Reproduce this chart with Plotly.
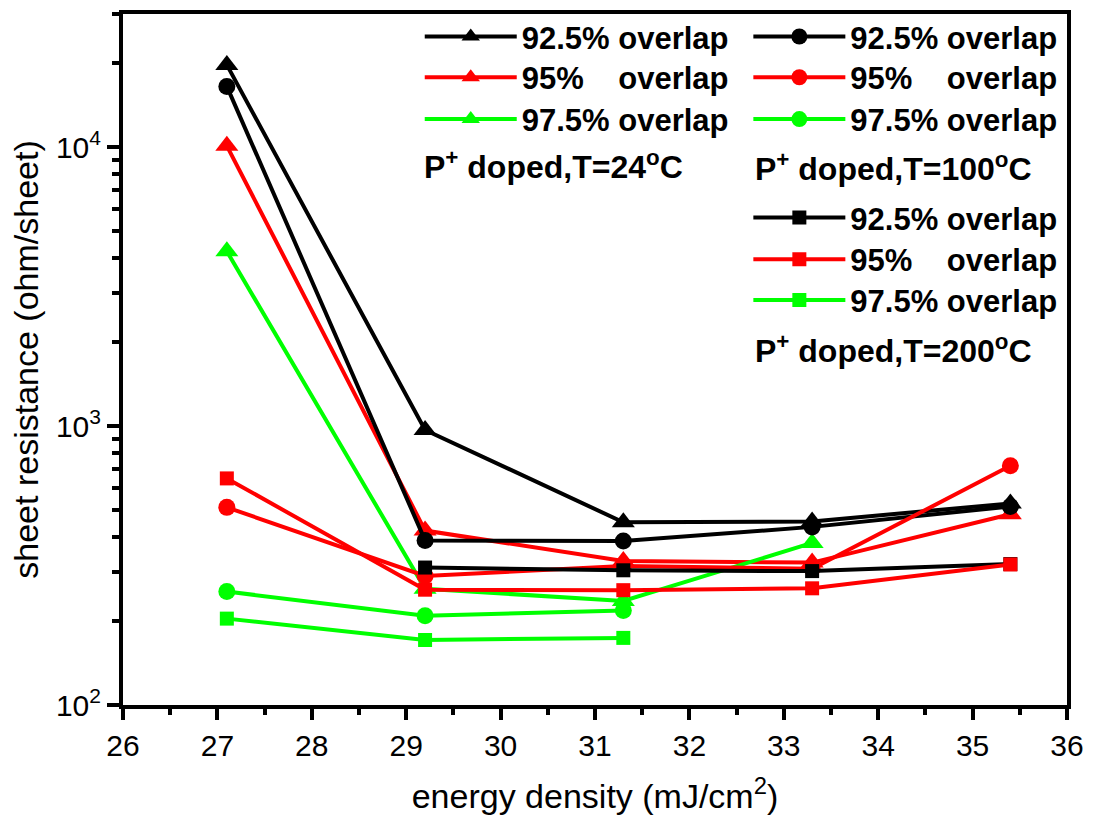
import plotly.graph_objects as go

# ---------------- data ----------------
energy = [27.1, 29.2, 31.3, 33.3, 35.4]

# P+ doped, T=24 C (triangles)
t24_925 = [19700, 968, 452, 455, 528]
t24_95 = [10100, 422, 328, 324, 483]
t24_975 = [4230, 261, 236, 381]

# P+ doped, T=100 C (circles)
t100_925 = [16500, 389, 387, 435, 515]
t100_95 = [511, 290, 315, 308, 720]
t100_975 = [255, 209, 218]

# P+ doped, T=200 C (squares)
t200_925 = [311, 304, 302, 320]          # starts at 29.2
t200_95 = [649, 259, 258, 262, 319]
t200_975 = [204, 171, 174]

labels = ["92.5% overlap", "95%\u00a0\u00a0\u00a0\u00a0overlap", "97.5% overlap"]
group_texts = ["P<sup>+</sup> doped,T=24<sup>o</sup>C",
               "P<sup>+</sup> doped,T=100<sup>o</sup>C",
               "P<sup>+</sup> doped,T=200<sup>o</sup>C"]

BLACK, RED, GREEN = "#000000", "#FF0000", "#00FF00"
FONT = "Arial, Liberation Sans, sans-serif"

# layout geometry (pixels)
W, H = 1094, 823
ML, MR, MT, MB = 123, 23, 10, 118
PW, PH = W - ML - MR, H - MT - MB


def px_x(p):
    return (p - ML) / PW


def px_y(p):
    return 1 - (p - MT) / PH


fig = go.Figure()

# legend placement for each entry (column left px, row centre px)
legend_slots = {
    "legend": (421, 33), "legend2": (421, 74), "legend3": (421, 116),
    "legend4": (751, 33), "legend5": (751, 74), "legend6": (751, 116),
    "legend7": (751, 215), "legend8": (751, 257), "legend9": (751, 298),
}


def add(xs, ys, color, symbol, size, name, legend):
    fig.add_trace(go.Scatter(
        x=xs, y=ys, mode="lines+markers", name=name, legend=legend,
        line=dict(color=color, width=4),
        marker=dict(color=color, symbol=symbol, size=size),
    ))


add(energy, t24_925, BLACK, "triangle-up", 20, labels[0], "legend")
add(energy, t24_95, RED, "triangle-up", 20, labels[1], "legend2")
add(energy[:4], t24_975, GREEN, "triangle-up", 20, labels[2], "legend3")

add(energy, t100_925, BLACK, "circle", 17, labels[0], "legend4")
add(energy, t100_95, RED, "circle", 17, labels[1], "legend5")
add(energy[:3], t100_975, GREEN, "circle", 17, labels[2], "legend6")

add(energy[1:], t200_925, BLACK, "square", 14, labels[0], "legend7")
add(energy, t200_95, RED, "square", 14, labels[1], "legend8")
add(energy[:3], t200_975, GREEN, "square", 14, labels[2], "legend9")

legends = {}
for lg, (lx, ly) in legend_slots.items():
    legends[lg] = dict(
        x=px_x(lx), y=px_y(ly), xanchor="left", yanchor="middle",
        font=dict(family=FONT, size=31, color="black", weight="bold"),
        bgcolor="rgba(0,0,0,0)", borderwidth=0, itemwidth=92, itemsizing="trace",
    )

minor_y = [m * 10 ** e for e in (2, 3, 4) for m in range(2, 10)]

fig.update_layout(
    width=W, height=H,
    margin=dict(l=ML, r=MR, t=MT, b=MB),
    plot_bgcolor="white", paper_bgcolor="white",
    font=dict(family=FONT, color="black"),
    showlegend=True,
    xaxis=dict(
        range=[26, 36], dtick=1, tick0=26,
        ticks="outside", ticklen=11, tickwidth=4, tickcolor="black",
        showline=True, linewidth=4, linecolor="black", mirror=True,
        showgrid=False, zeroline=False,
        tickfont=dict(size=30, family=FONT),
        minor=dict(ticks="outside", ticklen=6, tickwidth=4, dtick=0.5, tickcolor="black"),
        title=dict(text="energy density (mJ/cm<sup>2</sup>)", font=dict(size=34, family=FONT), standoff=24),
    ),
    yaxis=dict(
        type="log", range=[2, 4.477],
        tickvals=[100, 1000, 10000],
        ticktext=["10<sup>2</sup>", "10<sup>3</sup>", "10<sup>4</sup>"],
        ticks="outside", ticklen=12, tickwidth=4, tickcolor="black",
        showline=True, linewidth=4, linecolor="black", mirror=True,
        showgrid=False, zeroline=False,
        tickfont=dict(size=30, family=FONT),
        minor=dict(ticks="outside", ticklen=7, tickwidth=4, tickvals=minor_y, tickcolor="black"),
        title=dict(text="sheet resistance (ohm/sheet)", font=dict(size=34, family=FONT), standoff=8),
    ),
    **legends,
)

ann_pos = [(425, 162), (758, 164), (758, 347)]
for txt, (ax, ay) in zip(group_texts, ann_pos):
    fig.add_annotation(text="<b>" + txt + "</b>", xref="paper", yref="paper",
                       x=px_x(ax), y=px_y(ay), xanchor="left", yanchor="middle", showarrow=False,
                       xshift=-2, font=dict(family=FONT, size=32, color="black"))

fig.write_html("out.html")
